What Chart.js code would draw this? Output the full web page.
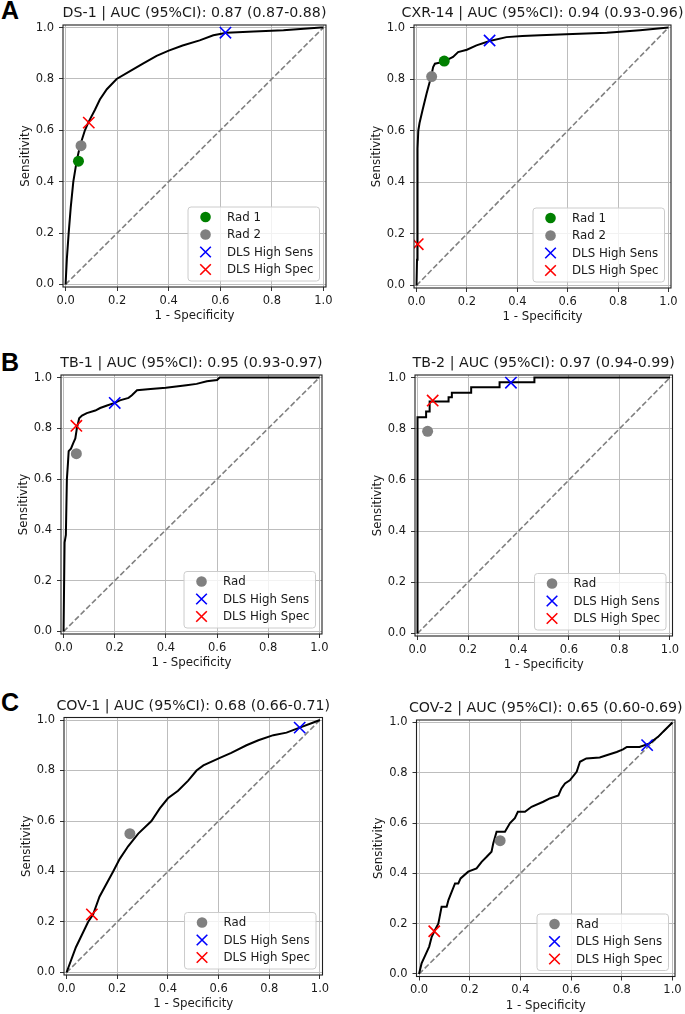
<!DOCTYPE html>
<html>
<head>
<meta charset="utf-8">
<script src="https://cdn.jsdelivr.net/npm/chart.js@4.4.1/dist/chart.umd.min.js"></script>
<style>
  html, body { margin: 0; padding: 0; background: #fff; }
  body { position: relative; width: 685px; height: 1014px; overflow: hidden; }
  canvas { position: absolute; }
  .tag { position: absolute; left: 1px; font: bold 25px "Liberation Sans", Arial, sans-serif; line-height: 25px; color: #000; }
</style>
</head>
<body>
<div class="tag" style="top:-2px">A</div>
<div class="tag" style="top:350px">B</div>
<div class="tag" style="top:690px">C</div>
<script>
// ---- data ----
const tickValues = [0, 0.2, 0.4, 0.6, 0.8, 1.0];
const diagonalX = [0, 1];
const diagonalY = [0, 1];

const panelTitles = [
  'DS-1 | AUC (95%CI): 0.87 (0.87-0.88)',
  'CXR-14 | AUC (95%CI): 0.94 (0.93-0.96)',
  'TB-1 | AUC (95%CI): 0.95 (0.93-0.97)',
  'TB-2 | AUC (95%CI): 0.97 (0.94-0.99)',
  'COV-1 | AUC (95%CI): 0.68 (0.66-0.71)',
  'COV-2 | AUC (95%CI): 0.65 (0.60-0.69)'
];

// DS-1
const ds1Fpr = [0, 0.005, 0.012, 0.02, 0.03, 0.043, 0.056, 0.075, 0.088, 0.114, 0.133, 0.16, 0.198, 0.25, 0.30, 0.353, 0.40, 0.454, 0.52, 0.573, 0.625, 0.73, 0.845, 0.99, 1.0];
const ds1Tpr = [0, 0.1, 0.2, 0.3, 0.4, 0.48, 0.54, 0.6, 0.63, 0.68, 0.72, 0.76, 0.8, 0.83, 0.86, 0.89, 0.91, 0.93, 0.95, 0.97, 0.98, 0.985, 0.99, 1.0, 1.0];
const ds1Rad1 = [0.05, 0.48];
const ds1Rad2 = [0.06, 0.54];
const ds1HighSens = [0.62, 0.98];
const ds1HighSpec = [0.09, 0.63];

// CXR-14
const cxrFpr = [0, 0.002, 0.003, 0.005, 0.007, 0.012, 0.024, 0.04, 0.056, 0.066, 0.073, 0.106, 0.145, 0.165, 0.2, 0.238, 0.29, 0.357, 0.42, 0.49, 0.62, 0.755, 0.887, 1.0];
const cxrTpr = [0, 0.1, 0.3, 0.53, 0.6, 0.63, 0.68, 0.744, 0.802, 0.847, 0.86, 0.867, 0.886, 0.905, 0.914, 0.931, 0.948, 0.963, 0.967, 0.97, 0.975, 0.98, 0.99, 1.0];
const cxrRad1 = [0.11, 0.87];
const cxrRad2 = [0.06, 0.81];
const cxrHighSens = [0.29, 0.95];
const cxrHighSpec = [0.005, 0.16];

// TB-1
const tb1Fpr = [0, 0.004, 0.009, 0.013, 0.017, 0.02, 0.029, 0.037, 0.046, 0.052, 0.061, 0.072, 0.091, 0.124, 0.143, 0.17, 0.2, 0.22, 0.254, 0.267, 0.287, 0.34, 0.40, 0.44, 0.48, 0.52, 0.56, 0.6, 0.61, 1.0];
const tb1Tpr = [0, 0.35, 0.38, 0.6, 0.66, 0.71, 0.72, 0.74, 0.76, 0.8, 0.84, 0.85, 0.86, 0.87, 0.88, 0.89, 0.90, 0.91, 0.92, 0.93, 0.95, 0.955, 0.96, 0.965, 0.97, 0.975, 0.985, 0.99, 1.0, 1.0];
const tb1Rad = [0.05, 0.70];
const tb1HighSens = [0.20, 0.90];
const tb1HighSpec = [0.05, 0.81];

// TB-2 (step corners)
const tb2Fpr = [0, 0, 0.034, 0.048, 0.123, 0.136, 0.2125, 0.325, 0.463, 1.0];
const tb2Tpr = [0, 0.845, 0.867, 0.906, 0.923, 0.941, 0.962, 0.982, 1.0, 1.0];
const tb2Rad = [0.04, 0.79];
const tb2HighSens = [0.37, 0.98];
const tb2HighSpec = [0.06, 0.91];

// COV-1
const cov1Fpr = [0, 0.037, 0.085, 0.105, 0.13, 0.184, 0.21, 0.243, 0.283, 0.335, 0.368, 0.40, 0.44, 0.48, 0.513, 0.54, 0.605, 0.65, 0.71, 0.757, 0.816, 0.868, 0.92, 0.974, 1.0];
const cov1Tpr = [0, 0.1, 0.2, 0.23, 0.3, 0.4, 0.45, 0.5, 0.55, 0.6, 0.65, 0.69, 0.72, 0.76, 0.8, 0.82, 0.85, 0.87, 0.9, 0.92, 0.94, 0.95, 0.97, 0.99, 1.0];
const cov1Rad = [0.25, 0.55];
const cov1HighSens = [0.92, 0.97];
const cov1HighSpec = [0.10, 0.23];

// COV-2
const cov2Fpr = [0, 0.01, 0.028, 0.04, 0.05, 0.063, 0.076, 0.08, 0.089, 0.109, 0.116, 0.126, 0.142, 0.155, 0.164, 0.194, 0.227, 0.247, 0.267, 0.286, 0.293, 0.306, 0.339, 0.359, 0.378, 0.39, 0.418, 0.444, 0.49, 0.516, 0.55, 0.562, 0.576, 0.595, 0.622, 0.635, 0.66, 0.713, 0.74, 0.78, 0.805, 0.82, 0.87, 0.91, 0.943, 0.97, 1.0];
const cov2Tpr = [0, 0.042, 0.082, 0.109, 0.148, 0.175, 0.2, 0.22, 0.267, 0.267, 0.294, 0.32, 0.36, 0.36, 0.38, 0.407, 0.42, 0.446, 0.466, 0.486, 0.52, 0.566, 0.566, 0.6, 0.62, 0.645, 0.645, 0.665, 0.685, 0.698, 0.71, 0.738, 0.758, 0.77, 0.804, 0.844, 0.857, 0.861, 0.87, 0.883, 0.893, 0.903, 0.903, 0.917, 0.943, 0.97, 1.0];
const cov2Rad = [0.32, 0.53];
const cov2HighSens = [0.90, 0.91];
const cov2HighSpec = [0.06, 0.17];

// ---- styling ----
const FONT = 'DejaVu Sans';
const TEXT = '#1a1a1a';
Chart.defaults.font.family = FONT;
Chart.defaults.color = TEXT;

function marker(label, pt, style, color) {
  const cross = style === 'crossRot';
  return {
    label,
    data: [{ x: pt[0], y: pt[1] }],
    showLine: false,
    pointStyle: style,
    pointRadius: cross ? 8 : 5.5,
    pointBorderWidth: cross ? 1.6 : 0,
    pointBackgroundColor: color,
    pointBorderColor: color,
    backgroundColor: color,
    borderColor: color,
    clip: 0
  };
}

function curve(fpr, tpr, stepped) {
  return {
    data: fpr.map((x, i) => ({ x, y: tpr[i] })),
    borderColor: '#000',
    borderWidth: 2,
    pointRadius: 0,
    stepped: stepped ? 'before' : false,
    clip: 0
  };
}

function diagonal() {
  return {
    data: diagonalX.map((x, i) => ({ x, y: diagonalY[i] })),
    borderColor: '#808080',
    borderWidth: 1.6,
    borderDash: [5.5, 2.5],
    pointRadius: 0,
    clip: 0
  };
}

// frame round the axes
const framePlugin = {
  id: 'frame',
  afterDatasetsDraw(chart) {
    const { ctx, chartArea: a } = chart;
    ctx.save();
    ctx.strokeStyle = '#1f1f1f';
    ctx.lineWidth = 1.1;
    ctx.strokeRect(a.left, a.top, a.right - a.left, a.bottom - a.top);
    ctx.restore();
  }
};

// title centred over the axes
const panelTitlePlugin = {
  id: 'panelTitle',
  afterDraw(chart, args, opts) {
    const { ctx, chartArea: a } = chart;
    ctx.save();
    ctx.font = '14.2px "' + FONT + '"';
    ctx.fillStyle = TEXT;
    ctx.textAlign = 'center';
    ctx.textBaseline = 'alphabetic';
    ctx.fillText(opts.text, (a.left + a.right) / 2, a.top - 8);
    ctx.restore();
  }
};

// matplotlib-like legend box in the lower right corner
const boxLegendPlugin = {
  id: 'boxLegend',
  afterDraw(chart) {
    const { ctx, chartArea: a } = chart;
    const items = chart.data.datasets.filter(d => d.label);
    ctx.save();
    ctx.font = '11.8px "' + FONT + '"';
    const textW = Math.max(...items.map(d => ctx.measureText(d.label).width));
    const w = 39 + textW + 6;
    const h = 21.5 + 17.5 * (items.length - 1);
    const x = a.right - 6.5 - w;
    const y = a.bottom - 6 - h;
    ctx.beginPath();
    if (ctx.roundRect) ctx.roundRect(x, y, w, h, 3); else ctx.rect(x, y, w, h);
    ctx.fillStyle = 'rgba(255,255,255,0.8)';
    ctx.fill();
    ctx.strokeStyle = '#cccccc';
    ctx.lineWidth = 1;
    ctx.stroke();
    items.forEach((d, i) => {
      const cy = y + 10 + 17.5 * i;
      ctx.fillStyle = d.backgroundColor;
      ctx.strokeStyle = d.borderColor;
      ctx.lineWidth = d.pointBorderWidth;
      Chart.helpers.drawPoint(ctx, {
        pointStyle: d.pointStyle,
        radius: d.pointStyle === 'crossRot' ? 7.5 : 5.3,
        borderWidth: d.pointBorderWidth,
        rotation: 0
      }, x + 17.5, cy);
      ctx.fillStyle = TEXT;
      ctx.textAlign = 'left';
      ctx.textBaseline = 'middle';
      ctx.fillText(d.label, x + 39, cy + 0.5);
    });
    ctx.restore();
  }
};

function makePanel(p) {
  const [cx, cy, cw, ch] = p.canvas;
  const [fl, ft, fr, fb] = p.frame;
  const yAxisW = fl - cx;
  const xAxisH = cy + ch - fb;
  const lh = 11.8 * 1.2;
  const xTitlePad = ch - (fb + 29 - cy) - lh / 2;
  const yTitlePad = (fl - 37.5 - cx) - lh / 2;

  const cv = document.createElement('canvas');
  cv.width = cw;
  cv.height = ch;
  cv.style.left = cx + 'px';
  cv.style.top = cy + 'px';
  cv.style.width = cw + 'px';
  cv.style.height = ch + 'px';
  document.body.appendChild(cv);

  const grid = { color: '#bdbdbd', lineWidth: 1, tickLength: 4, tickColor: '#333', tickWidth: 1 };
  const common = {
    type: 'linear',
    min: -0.01,
    max: 1.01,
    grid,
    border: { display: false },
    afterBuildTicks: s => { s.ticks = tickValues.map(v => ({ value: v })); }
  };

  new Chart(cv, {
    type: 'line',
    data: { datasets: [...p.markers, curve(p.fpr, p.tpr, p.stepped), diagonal()] },
    options: {
      responsive: false,
      animation: false,
      events: [],
      devicePixelRatio: 1,
      layout: { autoPadding: false, padding: { left: 0, top: ft - cy, right: cx + cw - fr, bottom: 0 } },
      plugins: {
        legend: { display: false },
        tooltip: { enabled: false },
        panelTitle: { text: p.title }
      },
      scales: {
        x: {
          ...common,
          position: 'bottom',
          ticks: { padding: 3, color: TEXT, font: { size: 11.5 }, autoSkip: false, maxRotation: 0, callback: v => v.toFixed(1) },
          title: { display: true, text: '1 - Specificity', color: TEXT, font: { size: 11.8 }, padding: { top: 0, bottom: xTitlePad } },
          afterFit: s => { s.height = xAxisH; s.paddingLeft = 0; s.paddingRight = 0; }
        },
        y: {
          ...common,
          position: 'left',
          ticks: { padding: 5, color: TEXT, font: { size: 11.5 }, autoSkip: false, callback: v => v.toFixed(1) },
          title: { display: true, text: 'Sensitivity', color: TEXT, font: { size: 11.8 }, padding: { top: yTitlePad, bottom: 0 } },
          afterFit: s => { s.width = yAxisW; s.paddingTop = 0; s.paddingBottom = 0; }
        }
      }
    },
    plugins: [framePlugin, boxLegendPlugin, panelTitlePlugin]
  });
}

const GREEN = '#008000', GREY = '#808080', BLUE = '#0000ff', RED = '#ff0000';

makePanel({
  canvas: [0, 0, 340, 335], frame: [63, 25, 326, 287], title: panelTitles[0],
  fpr: ds1Fpr, tpr: ds1Tpr,
  markers: [
    marker('Rad 1', ds1Rad1, 'circle', GREEN),
    marker('Rad 2', ds1Rad2, 'circle', GREY),
    marker('DLS High Sens', ds1HighSens, 'crossRot', BLUE),
    marker('DLS High Spec', ds1HighSpec, 'crossRot', RED)
  ]
});
makePanel({
  canvas: [340, 0, 345, 335], frame: [414, 25, 671, 288], title: panelTitles[1],
  fpr: cxrFpr, tpr: cxrTpr,
  markers: [
    marker('Rad 1', cxrRad1, 'circle', GREEN),
    marker('Rad 2', cxrRad2, 'circle', GREY),
    marker('DLS High Sens', cxrHighSens, 'crossRot', BLUE),
    marker('DLS High Spec', cxrHighSpec, 'crossRot', RED)
  ]
});
makePanel({
  canvas: [0, 330, 340, 345], frame: [61, 375, 322, 634], title: panelTitles[2],
  fpr: tb1Fpr, tpr: tb1Tpr,
  markers: [
    marker('Rad', tb1Rad, 'circle', GREY),
    marker('DLS High Sens', tb1HighSens, 'crossRot', BLUE),
    marker('DLS High Spec', tb1HighSpec, 'crossRot', RED)
  ]
});
makePanel({
  canvas: [340, 330, 345, 345], frame: [415, 375, 672.5, 636], title: panelTitles[3],
  fpr: tb2Fpr, tpr: tb2Tpr, stepped: true,
  markers: [
    marker('Rad', tb2Rad, 'circle', GREY),
    marker('DLS High Sens', tb2HighSens, 'crossRot', BLUE),
    marker('DLS High Spec', tb2HighSpec, 'crossRot', RED)
  ]
});
makePanel({
  canvas: [0, 670, 340, 344], frame: [64, 717.5, 322.5, 975], title: panelTitles[4],
  fpr: cov1Fpr, tpr: cov1Tpr,
  markers: [
    marker('Rad', cov1Rad, 'circle', GREY),
    marker('DLS High Sens', cov1HighSens, 'crossRot', BLUE),
    marker('DLS High Spec', cov1HighSpec, 'crossRot', RED)
  ]
});
makePanel({
  canvas: [340, 670, 345, 344], frame: [416.5, 720, 675, 976.5], title: panelTitles[5],
  fpr: cov2Fpr, tpr: cov2Tpr,
  markers: [
    marker('Rad', cov2Rad, 'circle', GREY),
    marker('DLS High Sens', cov2HighSens, 'crossRot', BLUE),
    marker('DLS High Spec', cov2HighSpec, 'crossRot', RED)
  ]
});
</script>
</body>
</html>
